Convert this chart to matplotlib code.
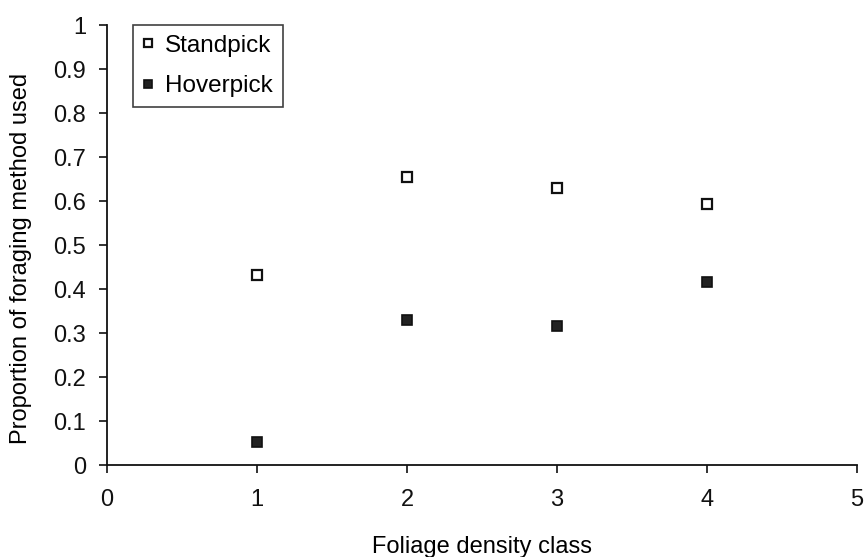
import matplotlib
matplotlib.use("Agg")
import matplotlib.pyplot as plt

plt.rcParams['font.family'] = ['Liberation Sans', 'DejaVu Sans']

# Data
density_class = [1, 2, 3, 4]
standpick = [0.432, 0.655, 0.630, 0.593]
hoverpick = [0.053, 0.330, 0.316, 0.416]

fig = plt.figure(figsize=(8.66, 5.57), dpi=100)
ax = fig.add_axes([0.1236, 0.165, 0.866, 0.79])

ax.plot(density_class, standpick, linestyle='none', marker='s', markersize=7.5,
        markerfacecolor='white', markeredgecolor='#111111', markeredgewidth=1.6,
        label='Standpick')
ax.plot(density_class, hoverpick, linestyle='none', marker='s', markersize=7.5,
        markerfacecolor='#222222', markeredgecolor='#111111', markeredgewidth=1.2,
        label='Hoverpick')

ax.set_xlim(0, 5)
ax.set_ylim(0, 1)
ax.set_xticks([0, 1, 2, 3, 4, 5])
ax.set_xticklabels(['0', '1', '2', '3', '4', '5'])
ax.set_yticks([i / 10 for i in range(11)])
ax.set_yticklabels(['0', '0.1', '0.2', '0.3', '0.4', '0.5', '0.6', '0.7', '0.8', '0.9', '1'])

for s in ['top', 'right']:
    ax.spines[s].set_visible(False)
for s in ['left', 'bottom']:
    ax.spines[s].set_linewidth(1.3)
    ax.spines[s].set_color('#111111')

ax.tick_params(axis='both', direction='out', length=6, width=1.2, labelsize=17,
               colors='#111111')
ax.tick_params(axis='x', pad=11)
ax.tick_params(axis='y', pad=9)

ax.set_xlabel('Foliage density class', fontsize=17, labelpad=18)
ax.set_ylabel('Proportion of foraging method used', fontsize=17)
ax.yaxis.set_label_coords(-0.1, 0.47)

leg = ax.legend(loc='upper left', bbox_to_anchor=(0.034, 1.0), fontsize=17.5,
                frameon=True, fancybox=False, edgecolor='#111111',
                handlelength=0.5, handletextpad=0.45, borderpad=0.4,
                labelspacing=0.75, borderaxespad=0.0, markerscale=0.85)
leg.get_frame().set_linewidth(1.2)

fig.savefig('out.png', dpi=100)
